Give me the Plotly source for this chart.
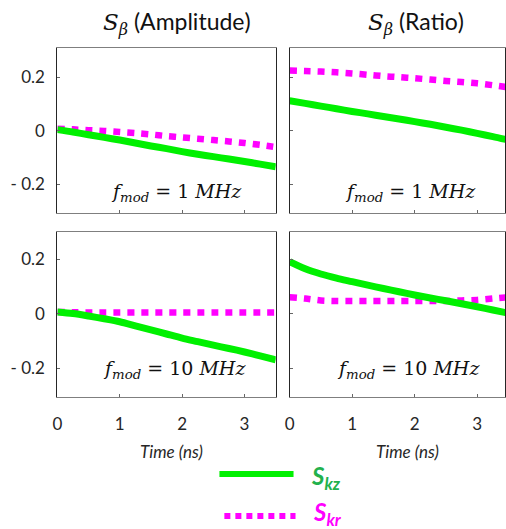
import plotly.graph_objects as go

W, H = 506, 529

# ---------------- data ----------------
t = [0, 0.25, 0.5, 0.75, 1, 1.25, 1.5, 1.75, 2, 2.25, 2.5, 2.75, 3, 3.25, 3.5]

amp_1mhz_skz = [0.005, -0.004, -0.014, -0.024, -0.034, -0.045, -0.056, -0.066,
                -0.077, -0.087, -0.096, -0.105, -0.114, -0.124, -0.134]
amp_1mhz_skr = [0.008, 0.006, 0.003, 0.0, -0.004, -0.008, -0.013, -0.019,
                -0.024, -0.029, -0.034, -0.039, -0.045, -0.052, -0.060]
ratio_1mhz_skz = [0.113, 0.103, 0.093, 0.083, 0.073, 0.064, 0.054, 0.045,
                  0.035, 0.025, 0.014, 0.003, -0.009, -0.021, -0.034]
ratio_1mhz_skr = [0.226, 0.224, 0.222, 0.219, 0.215, 0.210, 0.205, 0.201,
                  0.197, 0.192, 0.187, 0.183, 0.178, 0.171, 0.163]
amp_10mhz_skz = [0.006, 0.0, -0.009, -0.019, -0.030, -0.045, -0.060, -0.075,
                 -0.090, -0.103, -0.116, -0.128, -0.141, -0.155, -0.170]
amp_10mhz_skr = [0.006, 0.005, 0.004, 0.004, 0.004, 0.004, 0.004, 0.004,
                 0.004, 0.004, 0.004, 0.004, 0.004, 0.004, 0.004]
ratio_10mhz_skz = [0.190, 0.164, 0.145, 0.130, 0.117, 0.104, 0.092, 0.080,
                   0.068, 0.057, 0.047, 0.036, 0.025, 0.013, 0.001]
ratio_10mhz_skr = [0.060, 0.055, 0.048, 0.046, 0.046, 0.046, 0.046, 0.046,
                   0.046, 0.046, 0.046, 0.048, 0.050, 0.055, 0.060]

y_tickvals = [-0.2, 0, 0.2]
y_ticktext = ["- 0.2", "0", "0.2"]
x_tickvals = [0, 1, 2, 3]
x_ticktext = ["0", "1", "2", "3"]

MATH = "<span style='font-family:DejaVu Serif'><i>S</i><sub><i>β</i></sub></span>"
col_titles = [MATH + " (Amplitude)", MATH + " (Ratio)"]
row_labels = ["<i>f</i><sub><i>mod</i></sub> = 1 <i>MHz</i>",
              "<i>f</i><sub><i>mod</i></sub> = 10 <i>MHz</i>"]
x_title = "<i>Time (ns)</i>"
legend_names = ["<b><i>S</i></b><sub><b><i>kz</i></b></sub>",
                "<b><i>S</i></b><sub><b><i>kr</i></b></sub>"]

GREEN = "#00F000"
MAGENTA = "#FF00FF"
LEG_GREEN = "#22B14C"

def px_x(p):
    return p / W

def px_y(p):
    return 1 - p / H

fig = go.Figure()

panels = [
    ("x", "y", amp_1mhz_skz, amp_1mhz_skr),
    ("x2", "y2", ratio_1mhz_skz, ratio_1mhz_skr),
    ("x3", "y3", amp_10mhz_skz, amp_10mhz_skr),
    ("x4", "y4", ratio_10mhz_skz, ratio_10mhz_skr),
]
for xa, ya, gz, mr in panels:
    fig.add_trace(go.Scatter(x=t, y=mr, xaxis=xa, yaxis=ya, mode="lines",
                             line=dict(color=MAGENTA, width=6.5, dash="7px,7px",
                                       shape="spline", smoothing=0.8),
                             showlegend=False, hoverinfo="skip"))
    fig.add_trace(go.Scatter(x=t, y=gz, xaxis=xa, yaxis=ya, mode="lines",
                             line=dict(color=GREEN, width=7, shape="spline", smoothing=0.8),
                             showlegend=False, hoverinfo="skip"))

tick_font = dict(family="Lato, Open Sans, sans-serif", size=17, color="#262626")

x_left = [px_x(53), px_x(274)]
x_right = [px_x(288), 1.0]
y_top = [px_y(213), px_y(48)]
y_bot = [px_y(397), px_y(232)]
yr_top = [-0.3065, 0.310]
yr_bot = [-0.306, 0.299]
xr_left = [0, 3.5]
xr_right = [0, (506 - 288) / 63.3]

common_x = dict(ticks="inside", ticklen=3, tickcolor="#666", showline=True,
                linecolor="#7f7f7f", linewidth=1, mirror=True, showgrid=False,
                zeroline=False, tickvals=x_tickvals, ticktext=x_ticktext,
                tickfont=tick_font, ticklabelstandoff=12)
common_y = dict(ticks="inside", ticklen=3, tickcolor="#666", showline=True,
                linecolor="#262626", linewidth=1, mirror=True, showgrid=False,
                zeroline=False, tickvals=y_tickvals, ticktext=y_ticktext,
                tickfont=tick_font, ticklabelstandoff=8)

fig.update_layout(
    width=W, height=H, margin=dict(l=0, r=0, t=0, b=0),
    paper_bgcolor="white", plot_bgcolor="white", showlegend=False,
    xaxis=dict(common_x, domain=x_left, range=xr_left, anchor="y", showticklabels=False),
    xaxis2=dict(common_x, domain=x_right, range=xr_right, anchor="y2", showticklabels=False),
    xaxis3=dict(common_x, domain=x_left, range=xr_left, anchor="y3"),
    xaxis4=dict(common_x, domain=x_right, range=xr_right, anchor="y4"),
    yaxis=dict(common_y, domain=y_top, range=yr_top, anchor="x"),
    yaxis2=dict(common_y, domain=y_top, range=yr_top, anchor="x2", showticklabels=False),
    yaxis3=dict(common_y, domain=y_bot, range=yr_bot, anchor="x3"),
    yaxis4=dict(common_y, domain=y_bot, range=yr_bot, anchor="x4", showticklabels=False),
)

ann = []
# column titles
for txt, cx in zip(col_titles, [174, 416]):
    ann.append(dict(text=txt, x=px_x(cx), y=px_y(23), xref="paper", yref="paper",
                    showarrow=False, xanchor="center", yanchor="middle",
                    font=dict(family="Lato, sans-serif", size=23, color="#111")))
# panel labels
for txt, cx, cy in [(row_labels[0], 174, 193), (row_labels[0], 410, 193),
                    (row_labels[1], 172, 369), (row_labels[1], 408, 369)]:
    ann.append(dict(text=txt, x=px_x(cx), y=px_y(cy), xref="paper", yref="paper",
                    showarrow=False, xanchor="center", yanchor="middle",
                    font=dict(family="DejaVu Serif, serif", size=19, color="#111")))
# x axis titles
for cx in [168, 407]:
    ann.append(dict(text=x_title, x=px_x(cx), y=px_y(451), xref="paper", yref="paper",
                    showarrow=False, xanchor="center", yanchor="middle",
                    font=dict(family="Lato, sans-serif", size=17, color="#262626")))
# legend labels
ann.append(dict(text=legend_names[0], x=px_x(308), y=px_y(477), xref="paper", yref="paper",
                showarrow=False, xanchor="left", yanchor="middle",
                font=dict(family="Lato, sans-serif", size=24, color=LEG_GREEN)))
ann.append(dict(text=legend_names[1], x=px_x(310), y=px_y(513), xref="paper", yref="paper",
                showarrow=False, xanchor="left", yanchor="middle",
                font=dict(family="Lato, sans-serif", size=24, color=MAGENTA)))
fig.update_layout(annotations=ann)

# legend sample lines
fig.add_shape(type="line", xref="paper", yref="paper",
              x0=px_x(217), x1=px_x(292), y0=px_y(474), y1=px_y(474),
              line=dict(color=GREEN, width=6))
fig.add_shape(type="line", xref="paper", yref="paper",
              x0=px_x(222), x1=px_x(294), y0=px_y(516), y1=px_y(516),
              line=dict(color=MAGENTA, width=6, dash="6px,5px"))

fig.write_html("out.html", config={"displayModeBar": False},
               post_script="document.body.style.margin='0px';document.body.style.overflow='hidden';")
